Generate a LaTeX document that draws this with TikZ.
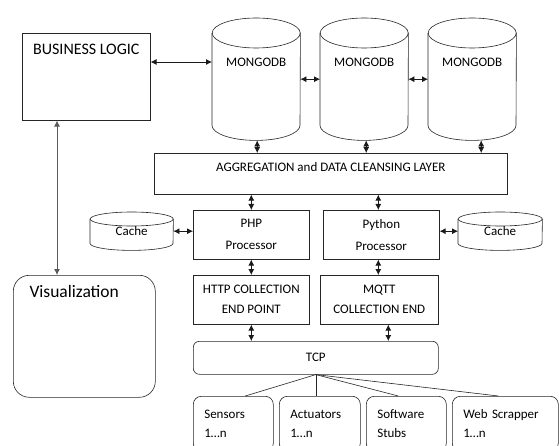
\documentclass[tikz,border=0pt]{standalone}
\usepackage{fontspec}
\setmainfont{Carlito}
\usetikzlibrary{arrows.meta,calc,positioning}

\tikzset{
  line/.style={draw=black!85, line width=0.6pt},
  box/.style={line, anchor=north west, inner sep=0pt, align=center},
  rbox/.style={box, rounded corners=6pt},
  body/.style={anchor=north west, inner sep=0pt},
  leaf/.style={rbox, rounded corners=8pt, minimum height=55pt, align=left,
    inner xsep=11pt, font=\fontsize{13}{19}\selectfont},
  link/.style={black!90, line width=0.8pt, {Latex[length=6pt,width=6pt]}-{Latex[length=6pt,width=6pt]}},
}

% cylinder outline round a body node: name, x radius, y radius
\newcommand{\cyl}[3]{%
  \draw[line] (#1.north) ellipse[x radius=#2, y radius=#3];
  \draw[line] (#1.north west) -- (#1.south west)
    arc[start angle=180, end angle=360, x radius=#2, y radius=#3] -- (#1.north east);
}

\begin{document}
\begin{tikzpicture}[x=1pt, y=-1pt, font=\fontsize{13}{15}\selectfont]
  \useasboundingbox (0,0) rectangle (559,446);
  \fill[white] (0,0) rectangle (559,446);
  \clip (0,0) rectangle (559,446);

  % left column
  \node[box, minimum width=128pt, minimum height=87pt,
    label={[name=tl, anchor=center, yshift=-16pt, font=\fontsize{16}{18}\selectfont]north:BUSINESS LOGIC}] (logic) at (22,33) {};
  \node[rbox, rounded corners=16pt, minimum width=142pt, minimum height=122pt,
    label={[anchor=west, xshift=13pt, yshift=-16pt, font=\fontsize{17.5}{20}\selectfont]north west:Visualization}] (vis) at (13,275) {};
  \draw[link, black!65] ($(logic.south west)+(35,0)$) -- ($(vis.north west)+(44,0)$);

  % databases
  \foreach \i/\x in {1/212, 2/320, 3/428} {
    \node[body, minimum width=88pt, minimum height=92pt,
      label={[name=t\i, anchor=center, yshift=-29pt]north:MONGODB}] (m\i) at (\x,33) {};
    \cyl{m\i}{44pt}{15pt}
  }
  \draw[link] (logic.east |- t1) -- (m1.west |- t1);
  \draw[link] (m1.east) -- (m2.west);
  \draw[link] (m2.east) -- (m3.west);

  % aggregation
  \node[box, minimum width=353pt, minimum height=41pt,
    label={[anchor=center, yshift=-14pt]north:AGGREGATION and DATA CLEANSING LAYER}] (agg) at (154,153) {};
  \draw[link] ($(m1.south)+(1,15)$) -- ($(agg.north -| m1.south)+(1,0)$);
  \draw[link] ($(m2.south)+(2,15)$) -- ($(agg.north -| m2.south)+(2,0)$);
  \draw[link] ($(m3.south)+(9,15)$) -- ($(agg.north -| m3.south)+(9,0)$);

  % processors and caches
  \node[box, minimum width=116pt, minimum height=49pt, font=\fontsize{13}{22}\selectfont] (php) at (193,210) {PHP\\Processor};
  \node[box, minimum width=116pt, minimum height=49pt, font=\fontsize{13}{22}\selectfont] (py) at (323,210) {Python\\Processor};
  \draw[link] (agg.south -| php.north) -- (php.north);
  \draw[link] ($(agg.south -| py.north)+(-3,0)$) -- ($(py.north)+(-3,0)$);

  \node[body, minimum width=83pt, minimum height=24pt] (lcache) at (90,219) {Cache};
  \cyl{lcache}{41.5pt}{7pt}
  \node[body, minimum width=84pt, minimum height=24pt] (rcache) at (458,219) {Cache};
  \cyl{rcache}{42pt}{7pt}
  \draw[link] (lcache.east) -- (lcache.east -| php.west);
  \draw[link] (py.east |- rcache.west) -- (rcache.west);

  % collection end points
  \node[box, minimum width=116pt, minimum height=49pt, font=\fontsize{13}{20}\selectfont] (http) at (193,275) {HTTP COLLECTION\\END POINT};
  \node[box, minimum width=118pt, minimum height=49pt, font=\fontsize{13}{20}\selectfont] (mqtt) at (320,275) {MQTT\\COLLECTION END};
  \draw[link] (php.south) -- (http.north);
  \draw[link] ($(py.south)+(-3,0)$) -- ($(mqtt.north -| py.south)+(-3,0)$);

  \node[rbox, minimum width=245pt, minimum height=33pt] (tcp) at (193,341) {TCP};
  \draw[link] (http.south) -- (http.south |- tcp.north);
  \draw[link] ($(mqtt.south)+(9,0)$) -- ($(tcp.north -| mqtt.south)+(9,0)$);

  % sources
  \node[leaf, text width=58pt] (sens) at (193,396) {Sensors\\1…n};
  \node[leaf, text width=59pt] (act) at (279,396) {Actuators\\1…n};
  \node[leaf, text width=58pt] (stub) at (366,396) {Software\\Stubs};
  \node[leaf, text width=84pt] (web) at (452,396) {Web Scrapper\\1…n};
  \draw[line] (tcp.south) -- ($(sens.north)+(12,0)$);
  \draw[line] (tcp.south) -- ($(act.north)+(-4,0)$);
  \draw[line] (tcp.south) -- ($(stub.north)+(-8,0)$);
  \draw[line] (tcp.south) -- ($(web.north)+(-7,0)$);
\end{tikzpicture}
\end{document}
